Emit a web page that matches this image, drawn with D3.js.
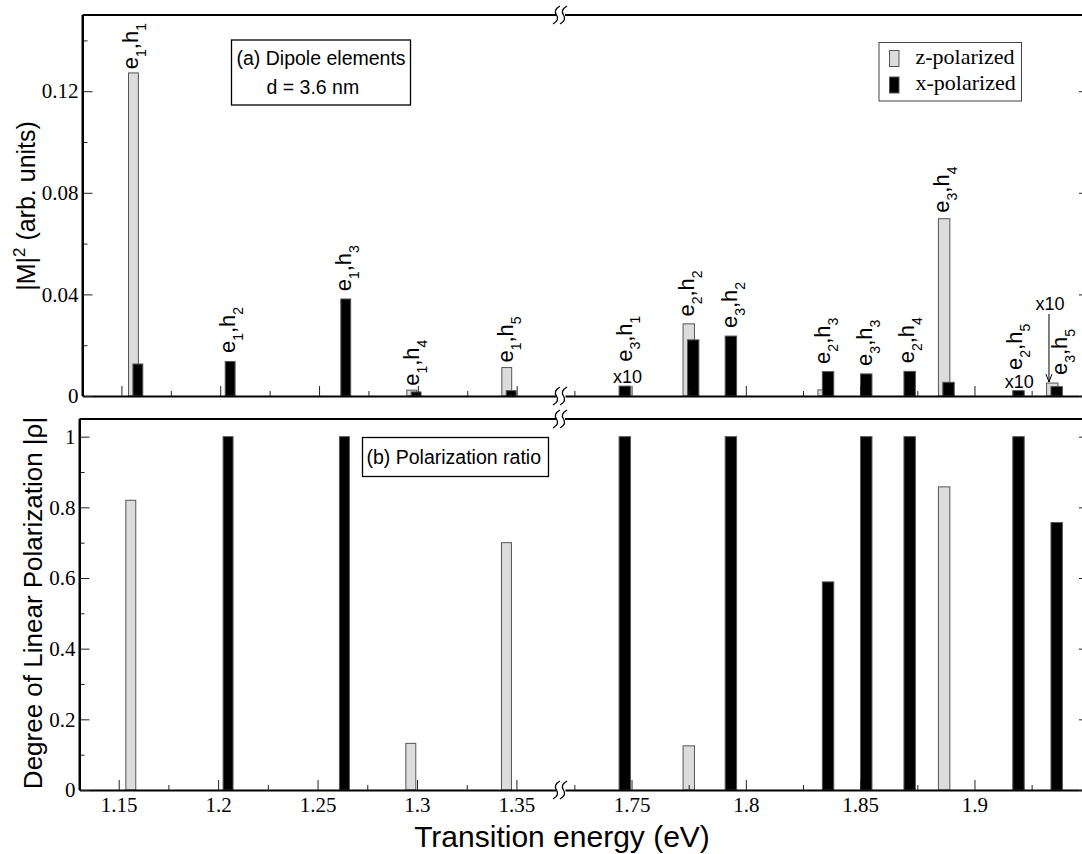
<!DOCTYPE html>
<html>
<head>
<meta charset="utf-8">
<script src="https://cdn.jsdelivr.net/npm/d3@7"></script>
<style>
body { margin: 0; background: #fff; }
svg { display: block; }
.sans { font-family: "Liberation Sans", Arial, sans-serif; }
.serif { font-family: "Liberation Serif", "Times New Roman", serif; }
.tick line { stroke: #222; stroke-width: 1; }
.domain { stroke: #000; stroke-width: 2; }
</style>
</head>
<body>
<svg id="chart" width="1082" height="854"></svg>
<script>
// transitions e_i,h_j
var eIndex = [1, 1, 1, 1, 1, 3, 2, 3, 2, 3, 2, 3, 2, 3];
var hIndex = [1, 2, 3, 4, 5, 1, 2, 2, 3, 3, 4, 4, 5, 5];
var energy = [1.1572, 1.2039, 1.2624, 1.2980, 1.3461, 1.7461, 1.7760, 1.7925, 1.8350, 1.8517, 1.8707, 1.8877, 1.9183, 1.9350];
// |M|^2, z- and x-polarized (as drawn, some x10)
var dipoleZ = [0.1272, 0, 0, 0.0023, 0.0112, 0, 0.0284, 0, 0.0024, 0, 0, 0.0698, 0, 0.0051];
var dipoleX = [0.0126, 0.0136, 0.0382, 0.0016, 0.0021, 0.0039, 0.0221, 0.0236, 0.0096, 0.0087, 0.0097, 0.0054, 0.0021, 0.0037];
// degree of linear polarization and which component dominates
var rho = [0.82, 1, 1, 0.132, 0.70, 1, 0.125, 1, 0.589, 1, 1, 0.858, 1, 0.757];
var rhoPol = ['z', 'x', 'x', 'z', 'z', 'x', 'z', 'x', 'x', 'x', 'x', 'z', 'x', 'x'];
var times10 = [5, 12, 13];

var xTicksLeft = [1.15, 1.2, 1.25, 1.3, 1.35];
var xMinorLeft = [1.175, 1.225, 1.275, 1.325];
var xTicksRight = [1.75, 1.8, 1.85, 1.9];
var xMinorRight = [1.725, 1.775, 1.825, 1.875, 1.925];
var yTicksTop = [0, 0.04, 0.08, 0.12];
var yMinorTop = [0.02, 0.06, 0.10, 0.14];
var yTicksBot = [0, 0.2, 0.4, 0.6, 0.8, 1];
var yMinorBot = [0.1, 0.3, 0.5, 0.7, 0.9];

// label layout (pixels): baseline shift from bar centre, gap above bar
var labelDx = [2.8, 7.2, 7.2, 4.6, 3.8, 9, 3, 8.5, 4.2, 7.6, 6.8, 3, 5.4, 12.2];
var labelGap = [3.7, 8.4, 7.6, 4.3, 5, 24.3, 7.3, 8, 7.7, 8, 8, 6, 20.7, 8];

var svg = d3.select('#chart');
svg.append('rect').attr('width', 1082).attr('height', 854).attr('fill', '#fff');

var breakL = 556, breakR = 565, rightEdge = 1089;
var xTopL = d3.scaleLinear().domain([1.1303, 1.3699]).range([82.5, breakL]);
var xBotL = d3.scaleLinear().domain([1.1303, 1.3699]).range([79.5, breakL]);
var xR = d3.scaleLinear().domain([1.7209, 1.9501]).range([breakR, rightEdge]);
var yTop = d3.scaleLinear().domain([0, 0.15]).range([396, 15]);
var yBot = d3.scaleLinear().domain([0, 1.05]).range([790, 419]);

function xOf(e, left) { return e < 1.5 ? left(e) : xR(e); }
function barW(e, left) { return xOf(e + 0.0025, left) - xOf(e - 0.0025, left); }

function styleTicks(sel) {
    sel.selectAll('.tick text')
        .style('font-family', '"Liberation Serif", "Times New Roman", serif')
        .style('font-size', '21px').style('fill', '#000');
}

function drawPanel(y, xL, yTicks, yMinor, fmt, withLabels) {
    var g = svg.append('g');
    var y0 = y.range()[0], y1 = y.range()[1];
    var xLeft = xL.range()[0];
    [[xL, xTicksLeft, xMinorLeft], [xR, xTicksRight, xMinorRight]].forEach(function(s) {
        var ax = d3.axisBottom(s[0]).tickValues(s[1]).tickSizeInner(-10).tickSizeOuter(0).tickPadding(7)
            .tickFormat(withLabels ? function(d) { return String(d); } : '');
        g.append('g').attr('transform', 'translate(0,' + y0 + ')').call(ax).call(styleTicks);
        g.append('g').attr('transform', 'translate(0,' + y0 + ')')
            .call(d3.axisBottom(s[0]).tickValues(s[2]).tickSizeInner(-5).tickSizeOuter(0).tickFormat(''))
            .select('.domain').remove();
        // top border
        g.append('line').attr('x1', s[0].range()[0]).attr('x2', s[0].range()[1])
            .attr('y1', y1).attr('y2', y1).attr('stroke', '#000').attr('stroke-width', 2);
    });
    var ya = d3.axisLeft(y).tickValues(yTicks).tickSizeInner(-10).tickSizeOuter(0).tickPadding(4).tickFormat(fmt);
    g.append('g').attr('transform', 'translate(' + xLeft + ',0)').call(ya).call(styleTicks);
    g.append('g').attr('transform', 'translate(' + xLeft + ',0)')
        .call(d3.axisLeft(y).tickValues(yMinor).tickSizeInner(-5).tickSizeOuter(0).tickFormat(''))
        .select('.domain').remove();
    g.append('g').attr('transform', 'translate(' + rightEdge + ',0)')
        .call(d3.axisRight(y).tickValues(yTicks).tickSizeInner(-10).tickSizeOuter(0).tickFormat(''));
    g.append('g').attr('transform', 'translate(' + rightEdge + ',0)')
        .call(d3.axisRight(y).tickValues(yMinor).tickSizeInner(-5).tickSizeOuter(0).tickFormat(''))
        .select('.domain').remove();
    // axis break marks
    [y0, y1].forEach(function(yy) {
        [556.5, 563.5].forEach(function(cx) {
            g.append('path')
                .attr('d', 'M' + (cx - 3.5) + ',' + (yy + 9) + ' Q' + (cx + 3.5) + ',' + (yy + 5) + ' ' + cx + ',' + yy +
                    ' Q' + (cx - 3.5) + ',' + (yy - 5) + ' ' + (cx + 3.5) + ',' + (yy - 9))
                .attr('fill', 'none').attr('stroke', '#000').attr('stroke-width', 1.3);
        });
    });
    return g;
}

var fmtTop = function(d) { return d === 0 ? '0' : d3.format('.2f')(d); };
var fmtBot = function(d) { return String(d); };

// bars first so that frame sits above
var barsTop = svg.append('g');
var barsBot = svg.append('g');

energy.forEach(function(e, i) {
    var w = barW(e, xTopL);
    if (dipoleZ[i] > 0) {
        barsTop.append('rect').attr('x', xOf(e, xTopL) - 2.2 - w / 2).attr('width', w)
            .attr('y', yTop(dipoleZ[i])).attr('height', yTop(0) - yTop(dipoleZ[i]))
            .attr('fill', '#dcdcdc').attr('stroke', '#555').attr('stroke-width', 1);
    }
    barsTop.append('rect').attr('x', xOf(e, xTopL) + 2.2 - w / 2).attr('width', w)
        .attr('y', yTop(dipoleX[i])).attr('height', yTop(0) - yTop(dipoleX[i]))
        .attr('fill', '#000').attr('stroke', '#555').attr('stroke-width', 1);

    var wb = barW(e, xBotL);
    var isZ = rhoPol[i] === 'z';
    barsBot.append('rect').attr('x', xOf(e, xBotL) + (isZ ? -2.2 : 2.2) - wb / 2).attr('width', wb)
        .attr('y', yBot(rho[i])).attr('height', yBot(0) - yBot(rho[i]))
        .attr('fill', isZ ? '#dcdcdc' : '#000').attr('stroke', '#555').attr('stroke-width', 1);

    // transition label
    var top = yTop(Math.max(dipoleZ[i], dipoleX[i]));
    var lx = xOf(e, xTopL) + labelDx[i], ly = top - labelGap[i];
    var lab = barsTop.append('text').attr('class', 'sans')
        .attr('transform', 'translate(' + lx + ',' + ly + ') rotate(-90)')
        .style('font-size', '22px');
    lab.append('tspan').text('e');
    lab.append('tspan').attr('dy', 8).style('font-size', '14px').text(eIndex[i]);
    lab.append('tspan').attr('dy', -8).text(',h');
    lab.append('tspan').attr('dy', 8).style('font-size', '14px').text(hIndex[i]);
});

drawPanel(yTop, xTopL, yTicksTop, yMinorTop, fmtTop, false);
drawPanel(yBot, xBotL, yTicksBot, yMinorBot, fmtBot, true);

// left borders
svg.append('line').attr('x1', 82.5).attr('x2', 82.5).attr('y1', 15).attr('y2', 396).attr('stroke', '#000').attr('stroke-width', 2);
svg.append('line').attr('x1', 79.5).attr('x2', 79.5).attr('y1', 419).attr('y2', 790).attr('stroke', '#000').attr('stroke-width', 2);

// x10 markers
var ann = svg.append('g').attr('class', 'sans').style('font-size', '18px');
ann.append('text').attr('x', xOf(energy[times10[0]], xTopL) + 5).attr('y', yTop(dipoleX[times10[0]]) - 3).attr('text-anchor', 'middle').text('x10');
ann.append('text').attr('x', xOf(energy[times10[1]], xTopL) + 3).attr('y', yTop(dipoleX[times10[1]]) - 3).attr('text-anchor', 'middle').text('x10');
var ax10 = xOf(energy[times10[2]], xTopL) - 5.5;
var tipY = yTop(dipoleZ[times10[2]]) - 1;
ann.append('text').attr('x', ax10 + 1).attr('y', 310).attr('text-anchor', 'middle').text('x10');
ann.append('line').attr('x1', ax10).attr('x2', ax10).attr('y1', 314).attr('y2', tipY)
    .attr('stroke', '#000').attr('stroke-width', 1);
ann.append('path').attr('d', 'M' + (ax10 - 3) + ',' + (tipY - 8) + ' L' + ax10 + ',' + tipY + ' L' + (ax10 + 3) + ',' + (tipY - 8))
    .attr('fill', 'none').attr('stroke', '#000').attr('stroke-width', 1);

// panel annotation boxes
var boxA = svg.append('g').attr('class', 'sans').style('font-size', '19.5px');
boxA.append('rect').attr('x', 231.5).attr('y', 40).attr('width', 179).attr('height', 65)
    .attr('fill', '#fff').attr('stroke', '#000').attr('stroke-width', 1.3);
boxA.append('text').attr('x', 236.5).attr('y', 65).text('(a) Dipole elements');
boxA.append('text').attr('x', 266.5).attr('y', 94).text('d = 3.6 nm');

var boxB = svg.append('g').attr('class', 'sans').style('font-size', '19.5px');
boxB.append('rect').attr('x', 362.5).attr('y', 437.5).attr('width', 186).attr('height', 39)
    .attr('fill', '#fff').attr('stroke', '#000').attr('stroke-width', 1.3);
boxB.append('text').attr('x', 366.5).attr('y', 464).text('(b) Polarization ratio');

// legend
var leg = svg.append('g').attr('class', 'serif').style('font-size', '22px');
leg.append('rect').attr('x', 879).attr('y', 42.5).attr('width', 142.5).attr('height', 58.5)
    .attr('fill', '#fff').attr('stroke', '#444').attr('stroke-width', 1);
leg.append('rect').attr('x', 889.5).attr('y', 50.5).attr('width', 9.5).attr('height', 16)
    .attr('fill', '#dcdcdc').attr('stroke', '#555').attr('stroke-width', 1);
leg.append('rect').attr('x', 889.5).attr('y', 77).attr('width', 9.5).attr('height', 16)
    .attr('fill', '#000').attr('stroke', '#555').attr('stroke-width', 1);
leg.append('text').attr('x', 915.5).attr('y', 63.5).text('z-polarized');
leg.append('text').attr('x', 915.5).attr('y', 90).text('x-polarized');

// axis titles
var t1 = svg.append('text').attr('class', 'sans').style('font-size', '25px')
    .attr('transform', 'translate(35,206) rotate(-90)').attr('text-anchor', 'middle');
t1.append('tspan').text('|M|');
t1.append('tspan').attr('dy', -10).style('font-size', '17px').text('2');
t1.append('tspan').attr('dy', 10).text(' (arb. units)');

svg.append('text').attr('class', 'sans').style('font-size', '26px')
    .attr('transform', 'translate(42,603) rotate(-90)').attr('text-anchor', 'middle')
    .text('Degree of Linear Polarization |\u03c1|');

svg.append('text').attr('class', 'sans').style('font-size', '30px')
    .attr('x', 562).attr('y', 847).attr('text-anchor', 'middle')
    .text('Transition energy (eV)');
</script>
</body>
</html>
